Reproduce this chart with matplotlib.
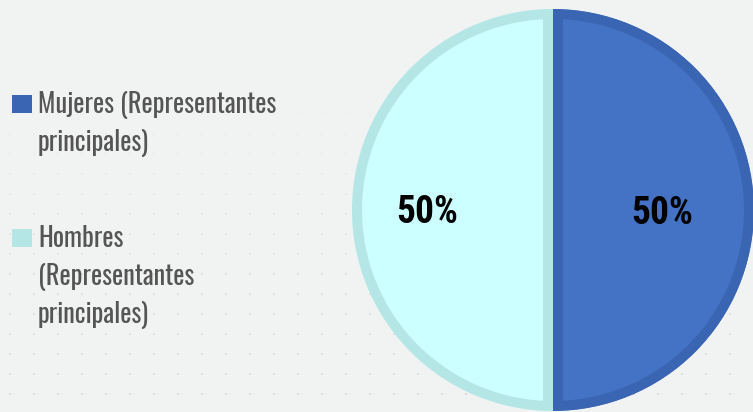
import numpy as np
import matplotlib
matplotlib.use("Agg")
import matplotlib.pyplot as plt
from matplotlib import font_manager as fm
from matplotlib.patches import Rectangle

categories = ["Mujeres (Representantes\nprincipales)", "Hombres\n(Representantes\nprincipales)"]
values = [50, 50]
fill_colors = ["#4472C4", "#CCFFFF"]
edge_colors = ["#3A65B3", "#B5E6E6"]


def font_by_file(fnames, fallback_family, weight="normal"):
    for fname in fnames:
        for f in fm.fontManager.ttflist:
            if f.fname.split("/")[-1] == fname:
                return fm.FontProperties(fname=f.fname)
    return fm.FontProperties(family=fallback_family, weight=weight)


legend_font = font_by_file(["Oswald[wght].ttf", "RobotoCondensed-Regular.ttf"], "DejaVu Sans")
label_font = font_by_file(["RobotoCondensed-Bold.ttf"], "DejaVu Sans", "bold")

W, H, DPI = 753, 412, 100
fig = plt.figure(figsize=(W / DPI, H / DPI), dpi=DPI)
fig.patch.set_facecolor("#F1F2F2")

# background dot pattern
bg = fig.add_axes([0, 0, 1, 1], zorder=0)
bg.set_xlim(0, W); bg.set_ylim(H, 0); bg.axis("off")
gx, gy = np.meshgrid(np.arange(10, W, 24), np.arange(14, H, 20))
alpha = np.clip((gy - 60) / 350.0, 0, 1) * 0.6
cols = np.zeros((gx.size, 4)); cols[:, :3] = 0.78; cols[:, 3] = alpha.ravel()
bg.scatter(gx.ravel(), gy.ravel(), s=3, c=cols, linewidths=0, marker="s")

# pie
cx, cy, r = 553, 210, 201
ax = fig.add_axes([(cx - r) / W, (H - cy - r) / H, 2 * r / W, 2 * r / H], zorder=2)
wedges, texts = ax.pie(values, colors=fill_colors, startangle=90, counterclock=False,
                       labels=[f"{v}%" for v in values], labeldistance=0.585,
                       textprops=dict(color="black", ha="center", va="center"))
for t in texts:
    t.set_fontproperties(label_font)
    t.set_fontsize(27)
    x, y = t.get_position()
    t.set_position((x - 8 / r, y - 3 / r))
for w, ec in zip(wedges, edge_colors):
    w.set_edgecolor(ec)
    w.set_linewidth(20 * 72 / DPI)
    w.set_clip_on(True)
    w.set_clip_path(w)
ax.set_xlim(-1, 1); ax.set_ylim(-1, 1)
ax.set_aspect("auto")
ax.axis("off")

# legend
leg_tops = [95, 229]
line_h = 38
for label, col, top in zip(categories, edge_colors, leg_tops):
    fig.patches.append(Rectangle((12 / W, 1 - (top + 18) / H), 20 / W, 18 / H,
                                 transform=fig.transFigure, facecolor=col,
                                 edgecolor="none", zorder=3))
    for i, line in enumerate(label.split("\n")):
        base = top + 18 + i * line_h
        fig.text(38 / W, 1 - base / H, line, fontproperties=legend_font, fontsize=19,
                 color="#555555", ha="left", va="baseline")

fig.savefig("out.png", dpi=DPI, facecolor=fig.get_facecolor())
